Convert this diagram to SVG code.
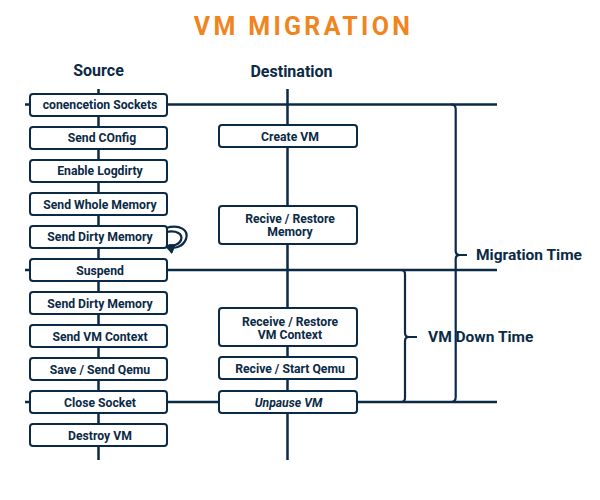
<svg xmlns="http://www.w3.org/2000/svg" width="600" height="500" viewBox="0 0 600 500">
<defs>
<style>
.ln{stroke:#0B2A45;stroke-width:2.5;fill:none}
.br{stroke:#0B2A45;stroke-width:2.2;fill:none}
.box{fill:#fff;stroke:#0B2A45;stroke-width:2}
.t{font-family:Roboto,"Liberation Sans",sans-serif;font-weight:bold;font-size:12.2px;fill:#0B2A45;text-anchor:middle}
.h{font-family:Roboto,"Liberation Sans",sans-serif;font-weight:bold;font-size:16px;fill:#0B2A45;text-anchor:middle}
.lab{font-family:Roboto,"Liberation Sans",sans-serif;font-weight:bold;font-size:15.5px;fill:#0B2A45}
</style>
<marker id="ah" viewBox="0 0 10 10" refX="5" refY="5" markerWidth="5" markerHeight="5" orient="auto"><path d="M0,0 L10,5 L0,10 z" fill="#0B2A45"/></marker>
</defs>
<rect width="600" height="500" fill="#fff"/>
<text x="303.5" y="35" font-family="Roboto,'Liberation Sans',sans-serif" font-weight="bold" font-size="25px" fill="#F0841E" text-anchor="middle" letter-spacing="3.3">VM MIGRATION</text>
<text class="h" x="98.5" y="76">Source</text>
<text class="h" x="291.5" y="77">Destination</text>
<g id="connectors">
<line class="ln" x1="98.5" y1="89" x2="98.5" y2="460"/>
<line class="ln" x1="287.5" y1="89" x2="287.5" y2="460"/>
<line class="ln" x1="25" y1="104.5" x2="497" y2="104.5"/>
<line class="ln" x1="25" y1="270" x2="497" y2="270"/>
<line class="ln" x1="25" y1="402" x2="497" y2="402"/>
<path class="br" d="M451,104.5 Q455.7,104.5 455.7,109 V251 Q455.7,255 460,255 H467 M460,255 Q455.7,255 455.7,259 V397 Q455.7,402 451,402"/>
<path class="br" d="M401,270 Q405,270 405,274 V333 Q405,337 409,337 H417 M409,337 Q405,337 405,341 V398 Q405,402 401,402"/>
<path class="br" d="M166,228 C180,224 189,230 186,239 C183,247 174,249 169,247" marker-end="url(#ah)"/>
<path class="br" d="M166,232 C177,230 183,234 181,240 C179,245 173,246 169,245" stroke-width="1.5"/>
</g>
<g id="src-connect"><rect class="box" x="30" y="94" width="137" height="22" rx="3"/><text class="t" x="100" y="109">conencetion Sockets</text></g>
<g id="src-config"><rect class="box" x="30" y="127" width="137" height="22" rx="3"/><text class="t" x="102" y="142">Send COnfig</text></g>
<g id="src-logdirty"><rect class="box" x="30" y="160" width="137" height="22" rx="3"/><text class="t" x="100" y="175">Enable Logdirty</text></g>
<g id="src-whole"><rect class="box" x="30" y="193" width="137" height="22" rx="3"/><text class="t" x="100" y="208.5">Send Whole Memory</text></g>
<g id="src-dirty1"><rect class="box" x="30" y="226" width="137" height="22" rx="3"/><text class="t" x="100" y="241">Send Dirty Memory</text></g>
<g id="src-suspend"><rect class="box" x="30" y="259" width="137" height="22" rx="3"/><text class="t" x="100" y="274.5">Suspend</text></g>
<g id="src-dirty2"><rect class="box" x="30" y="292" width="137" height="22" rx="3"/><text class="t" x="100" y="308">Send Dirty Memory</text></g>
<g id="src-context"><rect class="box" x="30" y="325" width="137" height="22" rx="3"/><text class="t" x="100" y="340.5">Send VM Context</text></g>
<g id="src-qemu"><rect class="box" x="30" y="358" width="137" height="22" rx="3"/><text class="t" x="100" y="373.5">Save / Send Qemu</text></g>
<g id="src-close"><rect class="box" x="30" y="391" width="137" height="22" rx="3"/><text class="t" x="100" y="406.5">Close Socket</text></g>
<g id="src-destroy"><rect class="box" x="30" y="424" width="137" height="22" rx="3"/><text class="t" x="100" y="440">Destroy VM</text></g>
<g id="dst-create"><rect class="box" x="219" y="125" width="138" height="22" rx="3"/><text class="t" x="290" y="140.5">Create VM</text></g>
<g id="dst-memory"><rect class="box" x="219" y="206" width="138" height="38" rx="3"/><text class="t" x="290" y="223">Recive / Restore</text><text class="t" x="290" y="236">Memory</text></g>
<g id="dst-context"><rect class="box" x="219" y="308" width="138" height="38" rx="3"/><text class="t" x="290" y="326">Receive / Restore</text><text class="t" x="290" y="339">VM Context</text></g>
<g id="dst-qemu"><rect class="box" x="219" y="357" width="138" height="22" rx="3"/><text class="t" x="290" y="372.5">Recive / Start Qemu</text></g>
<g id="dst-unpause"><rect class="box" x="219" y="391" width="138" height="22" rx="3"/><text class="t" x="288.5" y="407" font-style="italic">Unpause VM</text></g>
<text class="lab" x="476" y="260">Migration Time</text>
<text class="lab" x="428" y="342">VM Down Time</text>
</svg>
